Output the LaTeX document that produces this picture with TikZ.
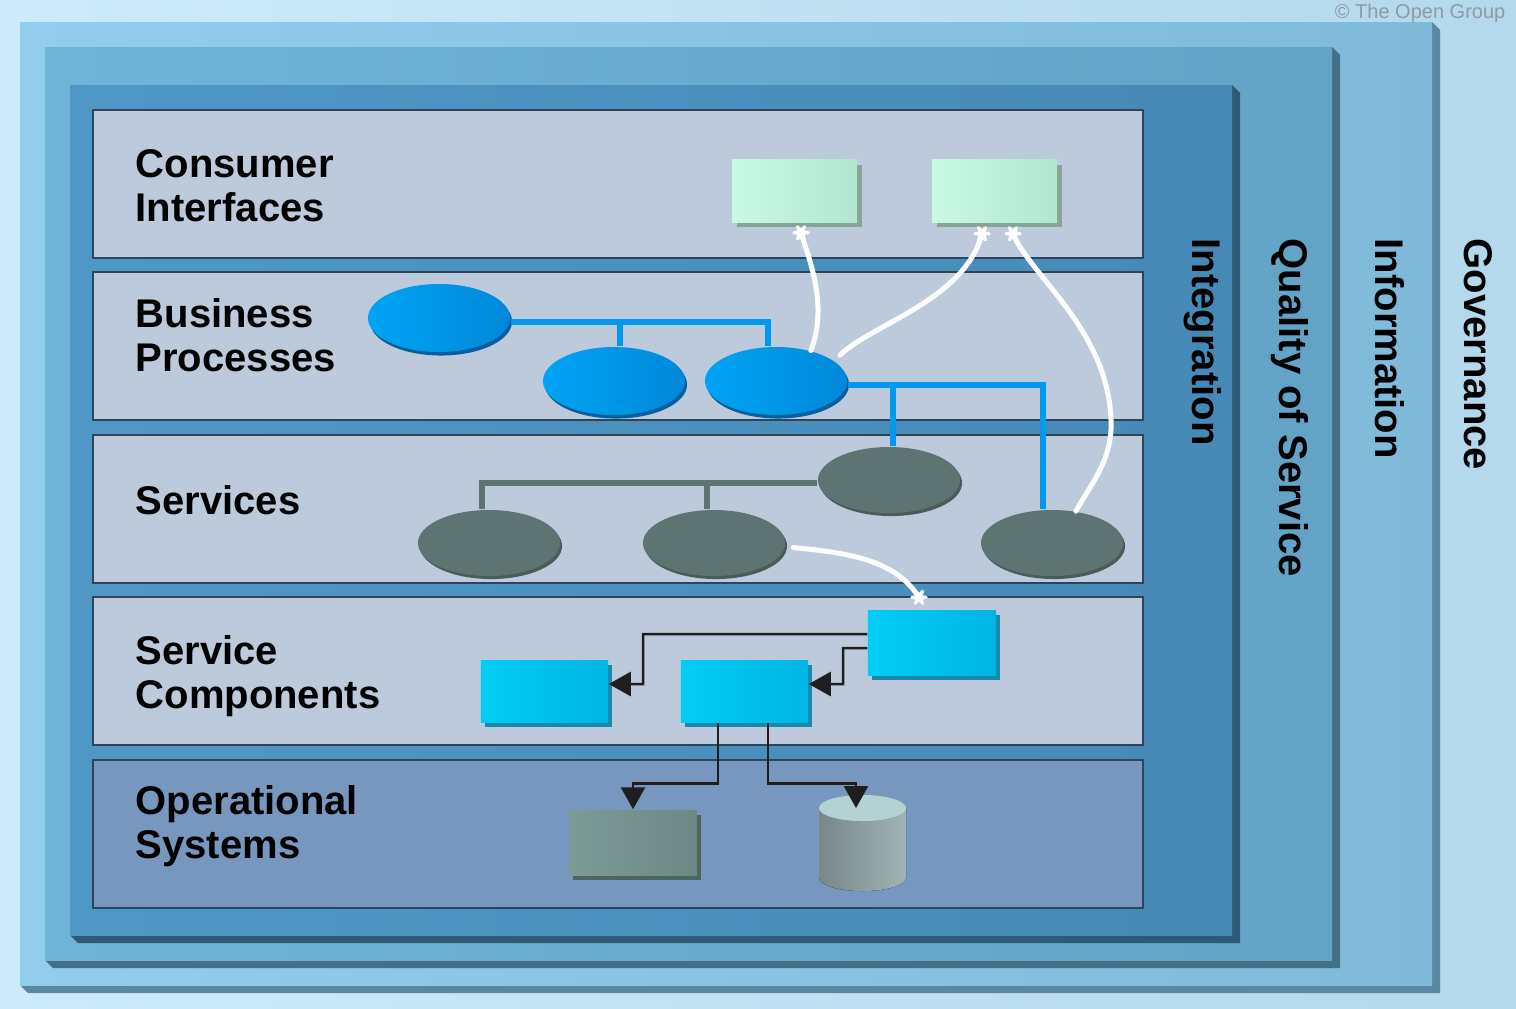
\documentclass[tikz,border=0pt]{standalone}
\usepackage{fontspec}
\setmainfont{Liberation Sans}
\usetikzlibrary{arrows.meta,shadows,shapes.geometric,calc}
\definecolor{bgL}{HTML}{CDEBFA}\definecolor{bgR}{HTML}{B4D8EC}
\definecolor{fraL}{HTML}{92CDEE}\definecolor{fraR}{HTML}{80BAD9}\definecolor{fraS}{HTML}{5A87A1}
\definecolor{frbL}{HTML}{6FB4D8}\definecolor{frbR}{HTML}{62A3C6}\definecolor{frbS}{HTML}{436F87}
\definecolor{frcL}{HTML}{4F98C6}\definecolor{frcR}{HTML}{4789B6}\definecolor{frcS}{HTML}{2E5A77}
\definecolor{layF}{HTML}{BCCADC}\definecolor{layOS}{HTML}{7897BF}\definecolor{layB}{HTML}{2C455A}
\definecolor{ciL}{HTML}{C8F9E3}\definecolor{ciR}{HTML}{B2E6D1}\definecolor{ciS}{HTML}{86A596}
\definecolor{bpL}{HTML}{00A4F5}\definecolor{bpR}{HTML}{0088DA}\definecolor{bpS}{HTML}{0A5E9C}
\definecolor{svF}{HTML}{5E7472}\definecolor{svS}{HTML}{4A5B58}
\definecolor{scL}{HTML}{00CEF6}\definecolor{scR}{HTML}{00B5E5}\definecolor{scS}{HTML}{1A88AA}
\definecolor{osL}{HTML}{7C9B97}\definecolor{osR}{HTML}{6C8884}\definecolor{osS}{HTML}{4E6460}
\definecolor{dbL}{HTML}{78878A}\definecolor{dbR}{HTML}{A0B4B3}\definecolor{dbT}{HTML}{B5D2D3}
\definecolor{bline}{HTML}{0099EE}\definecolor{connC}{HTML}{1E1E1E}\definecolor{cpyC}{HTML}{8E9BA4}
\tikzset{
  lbl/.style={anchor=west, align=left, inner sep=0pt, font=\bfseries\fontsize{11.38pt}{12.52pt}\selectfont},
  vlbl/.style={rotate=-90, anchor=west, inner sep=0pt, font=\bfseries\fontsize{11.38pt}{12.52pt}\selectfont},
  layerbox/.style={draw=layB, line width=0.025cm, fill=layF},
  cibox/.style={rectangle, inner sep=0pt, minimum width=1.25cm, minimum height=0.62cm, left color=ciL, right color=ciR,
     drop shadow={shadow xshift=0.05cm, shadow yshift=-0.05cm, opacity=1, fill=ciS}},
  bpell/.style={ellipse, inner sep=0pt, minimum width=1.42cm, minimum height=0.68cm, left color=bpL, right color=bpR,
     drop shadow={shadow xshift=0.02cm, shadow yshift=-0.035cm, opacity=1, fill=bpS}},
  svell/.style={ellipse, inner sep=0pt, minimum width=1.42cm, minimum height=0.66cm, fill=svF,
     drop shadow={shadow xshift=0.02cm, shadow yshift=-0.03cm, opacity=1, fill=svS}},
  scbox/.style={rectangle, inner sep=0pt, minimum width=1.27cm, minimum height=0.62cm, left color=scL, right color=scR,
     drop shadow={shadow xshift=0.04cm, shadow yshift=-0.05cm, opacity=1, fill=scS}},
  osbox/.style={rectangle, inner sep=0pt, minimum width=1.28cm, minimum height=0.65cm, left color=osL, right color=osR,
     drop shadow={shadow xshift=0.04cm, shadow yshift=-0.05cm, opacity=1, fill=osS}},
  bpline/.style={draw=bline, line width=0.06cm},
  svline/.style={draw=svF, line width=0.06cm},
  wline/.style={draw=white, line width=0.05cm, line cap=round},
  conn/.style={draw=connC, line width=0.025cm, -{Triangle[length=0.22cm, width=0.24cm]}},
  pics/wmark/.style={code={
     \draw[white, line width=0.035cm, line cap=round] (-7,0)--(7,0) (-3.5,-6)--(3.5,6) (-3.5,6)--(3.5,-6);
     \fill[white] (0,0) circle[radius=0.05cm];}}
}
\begin{document}
\begin{tikzpicture}[x=0.01cm, y=-0.01cm]
\useasboundingbox (0,0) rectangle (1516,1008);
\fill[left color=bgL, right color=bgR] (0,0) rectangle (1516,1008);
% frames
\fill[fraS] (1432,22) -- (1440,30) -- (1440,993) -- (28,993) -- (20,985) -- (1432,985) -- cycle;
\fill[left color=fraL, right color=fraR] (20,22) rectangle (1432,985);
\fill[frbS] (1332,47) -- (1340,55) -- (1340,968) -- (53,968) -- (45,960) -- (1332,960) -- cycle;
\fill[left color=frbL, right color=frbR] (45,47) rectangle (1332,960);
\fill[frcS] (1232,85) -- (1240,93) -- (1240,943) -- (78,943) -- (70,935) -- (1232,935) -- cycle;
\fill[left color=frcL, right color=frcR] (70,85) rectangle (1232,935);
% layers
\path[layerbox] (93,110) rectangle (1143,258);
\path[layerbox] (93,272) rectangle (1143,420);
\path[layerbox] (93,435) rectangle (1143,583);
\path[layerbox] (93,597) rectangle (1143,745);
\path[layerbox, fill=layOS] (93,760) rectangle (1143,908);
% labels
\node[lbl] (lci) at (135,186) {Consumer\\Interfaces};
\node[lbl] (lbp) at (135,335) {Business\\Processes};
\node[lbl] (lsv) at (135,500) {Services};
\node[lbl] (lsc) at (135,676) {Service\\Components};
\node[lbl] (los) at (135,826) {Operational\\Systems};
\node[vlbl] (vint) at (1203,238) {Integration};
\node[vlbl] (vqos) at (1290,238) {Quality of Service};
\node[vlbl] (vinf) at (1390,238) {Information};
\node[vlbl] (vgov) at (1478,238) {Governance};
\node[anchor=east, inner sep=0pt, text=cpyC, font=\fontsize{5.69pt}{6.5pt}\selectfont] (cpy) at (1506,13) {© The Open Group};
% consumer interfaces
\node[cibox] (ci1) at (794.5,191) {};
\node[cibox] (ci2) at (994.5,191) {};
% services and business processes
\node[svell] (s1) at (489,543) {};
\node[svell] (s2) at (714,543) {};
\node[svell] (s3) at (889,480) {};
\node[svell] (s4) at (1052,543) {};
\node[bpell] (bp1) at (439,318) {};
\node[bpell] (bp2) at (614,381) {};
\node[bpell] (bp3) at (776,381) {};
\coordinate (b1) at ([yshift=-0.04cm]bp1.east);
\coordinate (b2) at ([xshift=0.06cm]bp2.north);
\coordinate (b3) at ([xshift=-0.08cm]bp3.north);
\draw[bpline] (b1) -| (b3);
\draw[bpline] (b2) -- (b2 |- b1);
\coordinate (b4) at ([yshift=-0.04cm]bp3.east);
\coordinate (b5) at ([xshift=-0.09cm]s4.north);
\coordinate (b6) at ([xshift=0.04cm]s3.north);
\draw[bpline] (b4) -| (b5);
\draw[bpline] (b6) -- (b6 |- b4);
\coordinate (g1) at ([yshift=-0.03cm]s3.west);
\coordinate (g2) at ([xshift=-0.07cm]s1.north);
\coordinate (g3) at ([xshift=-0.07cm]s2.north);
\draw[svline] (g1) -| (g2);
\draw[svline] (g3) -- (g3 |- g1);
% service components
\node[scbox] (sc1) at (544.5,691) {};
\node[scbox] (sc2) at (744.5,691) {};
\node[scbox, minimum width=1.28cm, minimum height=0.65cm] (sc3) at (932,642.5) {};
% operational systems
\node[osbox] (os) at (633,842.5) {};
\coordinate (db) at (862.5,842.5);
\fill[left color=dbL, right color=dbR] (819,808) -- (819,878) arc[start angle=180, end angle=360, x radius=0.435cm, y radius=0.13cm] -- (906,808) -- cycle;
\fill[dbT] (862.5,808) ellipse[x radius=0.435cm, y radius=0.13cm];
\coordinate (dbtip) at (856,808);
% black connectors
\draw[conn] ([yshift=0.085cm]sc3.west) -| (643,684) -- ([yshift=0.07cm]sc1.east);
\draw[conn] ([yshift=-0.055cm]sc3.west) -| (843,684) -- ([yshift=0.07cm]sc2.east);
\draw[conn] ([xshift=-0.265cm]sc2.south) -- ++(0,61) -| (os.north);
\draw[conn] ([xshift=0.235cm]sc2.south) -- ++(0,61) -| (dbtip);
% white curves
\coordinate (m1) at ([xshift=0.065cm,yshift=-0.1cm]ci1.south);
\coordinate (m2) at ([xshift=-0.125cm,yshift=-0.11cm]ci2.south);
\coordinate (m3) at ([xshift=0.185cm,yshift=-0.11cm]ci2.south);
\coordinate (m4) at ([xshift=-0.13cm,yshift=0.12cm]sc3.north);
\draw[wline] (bp3.41) .. controls (828,305) and (810,262) .. (m1);
\draw[wline, shorten <=0.08cm] (bp3.19) .. controls (870,325) and (965,300) .. (m2);
\draw[wline] (m3) .. controls (1030,275) and (1108,330) .. (1111,420) .. controls (1113,460) and (1090,485) .. (s4.53);
\draw[wline, shorten <=0.08cm] (s2.-3) .. controls (850,553) and (895,560) .. (m4);
\pic at (m1) {wmark};
\pic at (m2) {wmark};
\pic at (m3) {wmark};
\pic at (m4) {wmark};
\end{tikzpicture}
\end{document}
